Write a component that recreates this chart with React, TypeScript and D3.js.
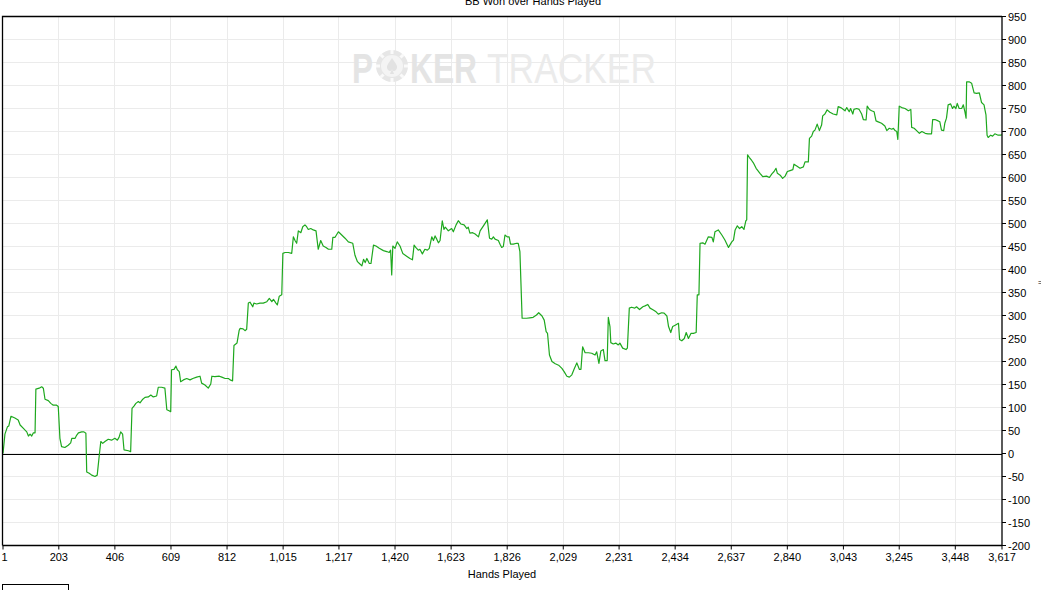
import React, { useRef, useEffect } from 'react';
import * as d3 from 'd3';

const title = 'BB Won over Hands Played';
const xTitle = 'Hands Played';

const xTicks = [1, 203, 406, 609, 812, 1015, 1217, 1420, 1623, 1826, 2029, 2231, 2434, 2637, 2840, 3043, 3245, 3448, 3617];
const yTicks = [-200, -150, -100, -50, 0, 50, 100, 150, 200, 250, 300, 350, 400, 450, 500, 550, 600, 650, 700, 750, 800, 850, 900, 950];

// hands played / cumulative BB won
const hands = [
  1, 8, 17, 22, 30, 44, 56, 63, 74, 87, 93, 99, 105, 111, 117, 120, 132, 141, 147, 153,
  165, 174, 183, 195, 201, 207, 213, 225, 237, 246, 250, 262, 268, 274, 286, 294, 301, 304, 313, 322,
  334, 342, 350, 355, 362, 370, 382, 394, 406, 415, 421, 427, 434, 439, 455, 463, 468, 475, 482, 491,
  497, 507, 515, 527, 536, 545, 557, 563, 575, 587, 594, 602, 608, 611, 620, 627, 632, 639, 644, 654,
  666, 678, 688, 702, 714, 720, 732, 744, 753, 757, 768, 784, 793, 805, 817, 823, 832, 837, 848, 856,
  859, 870, 877, 883, 889, 895, 905, 909, 919, 931, 943, 956, 965, 974, 980, 989, 994, 1001, 1010, 1014,
  1022, 1034, 1046, 1052, 1058, 1064, 1070, 1079, 1086, 1094, 1100, 1106, 1115, 1124, 1134, 1142, 1151, 1160, 1170, 1179,
  1191, 1195, 1203, 1215, 1227, 1239, 1251, 1267, 1275, 1284, 1291, 1300, 1306, 1312, 1318, 1327, 1333, 1342, 1351, 1363,
  1378, 1390, 1399, 1404, 1408, 1412, 1420, 1428, 1438, 1448, 1462, 1474, 1483, 1489, 1495, 1504, 1510, 1519, 1528, 1537,
  1544, 1553, 1559, 1565, 1571, 1577, 1583, 1591, 1597, 1602, 1613, 1625, 1631, 1641, 1649, 1658, 1670, 1680, 1685, 1691,
  1701, 1710, 1722, 1728, 1740, 1754, 1762, 1770, 1776, 1782, 1794, 1800, 1806, 1812, 1818, 1826, 1833, 1838, 1848, 1860,
  1866, 1872, 1880, 1896, 1908, 1920, 1932, 1940, 1952, 1960, 1967, 1972, 1979, 1988, 2000, 2012, 2024, 2032, 2042, 2051,
  2060, 2068, 2078, 2087, 2093, 2099, 2108, 2120, 2132, 2144, 2150, 2158, 2165, 2174, 2180, 2188, 2192, 2198, 2201, 2210,
  2219, 2228, 2234, 2244, 2256, 2261, 2268, 2276, 2288, 2294, 2305, 2317, 2325, 2335, 2343, 2355, 2365, 2373, 2385, 2394,
  2404, 2410, 2418, 2425, 2434, 2446, 2450, 2458, 2467, 2474, 2482, 2491, 2500, 2510, 2514, 2520, 2524, 2534, 2542, 2554,
  2567, 2572, 2578, 2590, 2603, 2614, 2627, 2639, 2645, 2651, 2659, 2667, 2675, 2683, 2690, 2693, 2696, 2702, 2711, 2717,
  2727, 2741, 2751, 2765, 2775, 2784, 2792, 2799, 2804, 2814, 2823, 2832, 2840, 2850, 2860, 2864, 2874, 2886, 2898, 2904,
  2916, 2920, 2928, 2934, 2940, 2948, 2956, 2964, 2968, 2976, 2984, 2994, 3006, 3019, 3024, 3033, 3043, 3049, 3055, 3064,
  3069, 3077, 3081, 3091, 3100, 3109, 3115, 3125, 3129, 3137, 3145, 3154, 3161, 3169, 3181, 3193, 3200, 3209, 3218, 3224,
  3230, 3236, 3240, 3245, 3254, 3266, 3278, 3287, 3290, 3299, 3308, 3318, 3327, 3339, 3349, 3362, 3366, 3374, 3386, 3392,
  3398, 3406, 3410, 3416, 3422, 3431, 3438, 3443, 3450, 3455, 3462, 3471, 3477, 3483, 3487, 3489, 3498, 3507, 3516, 3525,
  3535, 3543, 3552, 3555, 3559, 3563, 3567, 3576, 3583, 3591, 3603, 3612, 3617,
];
const bbWon = [
  0, 42, 58, 60, 81, 77, 73, 62, 55, 47, 38, 42, 38, 45, 45, 140, 142, 145, 142, 118,
  115, 109, 105, 105, 102, 33, 15, 13, 18, 23, 33, 33, 40, 45, 47, 47, 44, -40, -43, -47,
  -50, -47, -1, 26, 22, 26, 31, 29, 33, 29, 35, 47, 42, 8, 6, 4, 98, 103, 109, 113,
  110, 118, 122, 123, 127, 123, 125, 144, 144, 142, 95, 93, 91, 182, 183, 190, 182, 178, 156, 160,
  163, 160, 163, 166, 168, 153, 149, 142, 151, 168, 167, 168, 166, 163, 163, 160, 158, 235, 240, 268,
  272, 271, 267, 270, 327, 329, 319, 327, 325, 327, 327, 330, 337, 330, 335, 327, 323, 342, 345, 435,
  437, 437, 435, 471, 463, 457, 484, 480, 493, 497, 493, 487, 489, 486, 484, 444, 463, 451, 448, 444,
  444, 470, 470, 482, 475, 468, 460, 457, 431, 417, 413, 408, 422, 415, 424, 413, 413, 453, 451, 446,
  441, 439, 437, 442, 388, 451, 446, 460, 451, 435, 429, 424, 421, 453, 448, 442, 444, 434, 444, 442,
  446, 471, 463, 473, 466, 458, 463, 506, 487, 492, 484, 489, 482, 497, 506, 499, 497, 489, 492, 479,
  480, 477, 471, 484, 495, 508, 468, 466, 471, 466, 463, 455, 448, 450, 475, 471, 471, 455, 455, 457,
  457, 439, 294, 294, 295, 296, 301, 306, 299, 290, 265, 261, 214, 200, 195, 192, 185, 178, 168, 166,
  171, 183, 197, 183, 183, 232, 219, 219, 218, 214, 221, 196, 223, 226, 202, 202, 296, 276, 241, 238,
  240, 236, 240, 229, 226, 229, 316, 318, 316, 319, 313, 319, 321, 324, 316, 312, 308, 303, 306, 305,
  299, 276, 263, 276, 279, 283, 248, 245, 250, 263, 250, 261, 261, 263, 345, 345, 457, 458, 455, 471,
  470, 460, 482, 486, 475, 464, 448, 460, 464, 486, 495, 489, 493, 487, 506, 508, 649, 644, 637, 632,
  620, 609, 602, 603, 600, 608, 613, 620, 609, 605, 598, 603, 613, 615, 617, 629, 625, 620, 623, 634,
  634, 685, 690, 700, 703, 716, 702, 714, 734, 738, 747, 742, 738, 736, 754, 752, 748, 745, 752, 743,
  750, 738, 748, 750, 748, 738, 726, 725, 755, 748, 745, 743, 723, 721, 718, 712, 702, 707, 705, 707,
  702, 700, 683, 755, 752, 750, 745, 748, 709, 707, 702, 696, 700, 696, 695, 695, 726, 726, 723, 721,
  703, 702, 718, 729, 758, 760, 750, 755, 750, 761, 750, 750, 758, 742, 729, 808, 808, 805, 784, 783,
  784, 763, 758, 748, 736, 692, 687, 692, 690, 695, 692, 692, 693,
];

const W = 1041;
const H = 590;
const left = 2.5;
const right = 1002;
const top = 16.5;
const bottom = 545.5;
const FONT = '"Liberation Sans", Arial, sans-serif';
const WM_FONT = '"Liberation Sans Narrow", "Liberation Sans", Arial, sans-serif';

const App: React.FC = () => {
  const svgRef = useRef<SVGSVGElement>(null);

  useEffect(() => {
    const svg = d3.select(svgRef.current);
    svg.selectAll('*').remove();

    const x = d3.scaleLinear().domain([1, 3617]).range([left + 0.5, right]);
    const y = d3.scaleLinear().domain([-200, 950]).range([bottom, top]);

    // background grid
    const grid = svg.append('g').attr('shape-rendering', 'crispEdges');
    grid.selectAll('line.v')
      .data(xTicks.slice(1, -1))
      .enter()
      .append('line')
      .attr('x1', d => x(d)).attr('x2', d => x(d))
      .attr('y1', top).attr('y2', bottom)
      .attr('stroke', '#ebebeb');
    grid.selectAll('line.h')
      .data(yTicks.slice(1, -1))
      .enter()
      .append('line')
      .attr('x1', left).attr('x2', right)
      .attr('y1', d => y(d)).attr('y2', d => y(d))
      .attr('stroke', '#ebebeb');

    // watermark
    const wm = svg.append('g');
    wm.append('text')
      .attr('x', 352).attr('y', 83)
      .attr('font-family', WM_FONT)
      .attr('font-weight', 'bold').attr('font-size', 42)
      .attr('textLength', 21).attr('lengthAdjust', 'spacingAndGlyphs')
      .attr('fill', '#e4e4e4')
      .text('P');
    const chip = wm.append('g').attr('transform', 'translate(392,66)');
    chip.append('circle').attr('r', 16).attr('fill', '#e6e6e6');
    chip.append('circle').attr('r', 11).attr('fill', '#f4f4f4');
    d3.range(8).forEach(i => {
      const a = (i * Math.PI) / 4;
      chip.append('line')
        .attr('x1', Math.cos(a) * 12).attr('y1', Math.sin(a) * 12)
        .attr('x2', Math.cos(a) * 16).attr('y2', Math.sin(a) * 16)
        .attr('stroke', '#fafafa').attr('stroke-width', 3);
    });
    chip.append('path')
      .attr('d', 'M0,-8 C3,-3 7,0 4,4 C2,6 1,5 0,3 L2,8 L-2,8 L0,3 C-1,5 -2,6 -4,4 C-7,0 -3,-3 0,-8Z')
      .attr('fill', '#e2e2e2');
    wm.append('text')
      .attr('x', 410).attr('y', 83)
      .attr('font-family', WM_FONT)
      .attr('font-weight', 'bold').attr('font-size', 42)
      .attr('textLength', 67).attr('lengthAdjust', 'spacingAndGlyphs')
      .attr('fill', '#e4e4e4')
      .text('KER');
    wm.append('text')
      .attr('x', 487).attr('y', 83)
      .attr('font-family', WM_FONT)
      .attr('font-size', 42)
      .attr('textLength', 169).attr('lengthAdjust', 'spacingAndGlyphs')
      .attr('fill', '#ebebeb')
      .text('TRACKER');

    // zero line
    svg.append('line')
      .attr('x1', left).attr('x2', right)
      .attr('y1', Math.round(y(0)) + 0.5).attr('y2', Math.round(y(0)) + 0.5)
      .attr('stroke', '#000').attr('stroke-width', 1);

    // data line
    const pts = hands.map((h, i) => [h, bbWon[i]] as [number, number]);
    const line = d3.line<[number, number]>()
      .x(d => x(d[0]))
      .y(d => y(d[1]));
    svg.append('path')
      .datum(pts)
      .attr('d', line)
      .attr('fill', 'none')
      .attr('stroke', '#1ea81e')
      .attr('stroke-width', 1.2)
      .attr('stroke-linejoin', 'round');

    // frame: top and left border
    svg.append('path')
      .attr('d', `M${left},${bottom}V${top}H${right}`)
      .attr('fill', 'none').attr('stroke', '#000').attr('stroke-width', 1.3);

    // bottom axis
    const xAxis = svg.append('g').attr('transform', `translate(0,${bottom})`);
    xAxis.append('line')
      .attr('x1', left).attr('x2', right)
      .attr('stroke', '#000').attr('stroke-width', 1.3);
    const xt = xAxis.selectAll('g.tick')
      .data(xTicks)
      .enter()
      .append('g')
      .attr('transform', d => `translate(${x(d)},0)`);
    xt.append('line').attr('y2', 4).attr('stroke', '#000');
    xt.append('text')
      .attr('y', 15)
      .attr('text-anchor', (d, i) => (i === 0 ? 'start' : 'middle'))
      .attr('dx', (d, i) => (i === 0 ? -1.5 : 0))
      .attr('font-family', FONT).attr('font-size', 11).attr('fill', '#000')
      .text(d => d3.format(',')(d));

    // right axis
    const yAxis = svg.append('g').attr('transform', `translate(${right},0)`);
    yAxis.append('line')
      .attr('y1', top).attr('y2', bottom)
      .attr('stroke', '#000').attr('stroke-width', 1.3);
    const yt = yAxis.selectAll('g.tick')
      .data(yTicks)
      .enter()
      .append('g')
      .attr('transform', d => `translate(0,${y(d)})`);
    yt.append('line').attr('x2', 4).attr('stroke', '#000');
    yt.append('text')
      .attr('x', 6).attr('y', 4)
      .attr('font-family', FONT).attr('font-size', 11).attr('fill', '#000')
      .text(d => String(d));

    // titles
    svg.append('text')
      .attr('x', 533).attr('y', 5)
      .attr('text-anchor', 'middle')
      .attr('font-family', FONT).attr('font-size', 11).attr('fill', '#000')
      .text(title);
    svg.append('text')
      .attr('x', 502).attr('y', 578)
      .attr('text-anchor', 'middle')
      .attr('font-family', FONT).attr('font-size', 11).attr('fill', '#000')
      .text(xTitle);
    svg.append('text')
      .attr('x', 1040).attr('y', 285)
      .attr('text-anchor', 'middle')
      .attr('font-family', FONT).attr('font-size', 7).attr('fill', '#000')
      .text('=');

    // legend box (clipped at the bottom edge)
    svg.append('rect')
      .attr('x', left).attr('y', 584.5)
      .attr('width', 66).attr('height', 20)
      .attr('fill', '#fff').attr('stroke', '#000');
  }, []);

  return (
    <svg
      ref={svgRef}
      width={W}
      height={H}
      style={{ position: 'absolute', left: 0, top: 0, background: '#fff' }}
    />
  );
};

export default App;
